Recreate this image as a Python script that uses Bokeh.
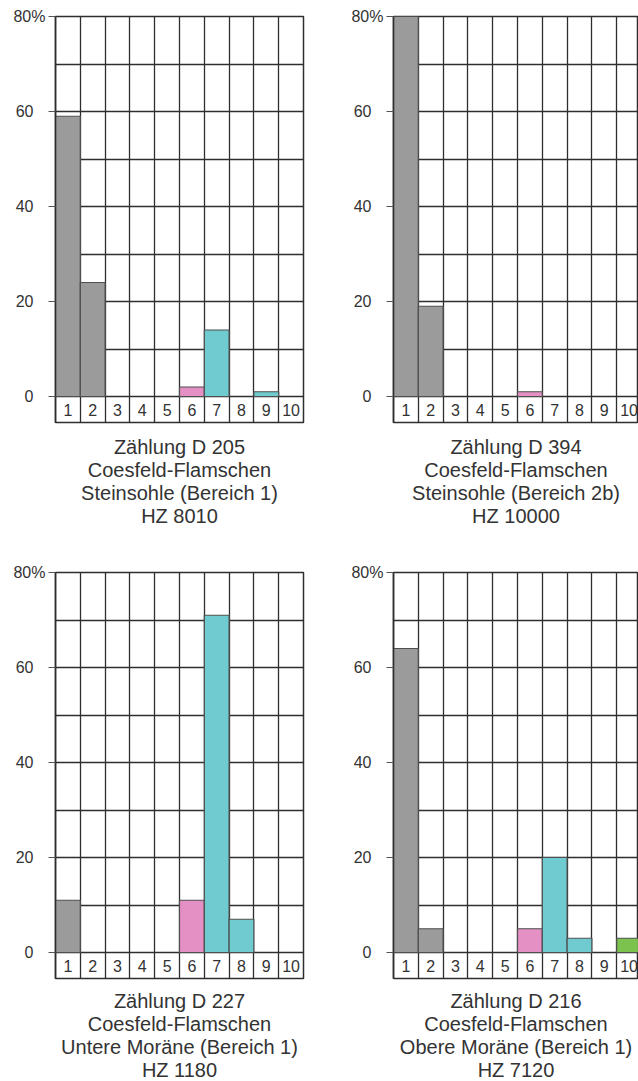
from bokeh.plotting import figure
from bokeh.layouts import column, row
from bokeh.models import FixedTicker, Range1d, Title
from bokeh.core.properties import value
from bokeh.embed import file_html
from bokeh.resources import INLINE

# ---- data ----
classes = [1, 2, 3, 4, 5, 6, 7, 8, 9, 10]
class_labels = ["1", "2", "3", "4", "5", "6", "7", "8", "9", "10"]
y_ticks = [0, 20, 40, 60, 80]
y_tick_labels = ["0", "20", "40", "60", "80%"]

d205 = [59, 24, 0, 0, 0, 2, 14, 0, 1, 0]
d394 = [80, 19, 0, 0, 0, 1, 0, 0, 0, 0]
d227 = [11, 0, 0, 0, 0, 11, 71, 7, 0, 0]
d216 = [64, 5, 0, 0, 0, 5, 20, 3, 0, 3]

cap205 = ["Zählung D 205", "Coesfeld-Flamschen", "Steinsohle (Bereich 1)", "HZ 8010"]
cap394 = ["Zählung D 394", "Coesfeld-Flamschen", "Steinsohle (Bereich 2b)", "HZ 10000"]
cap227 = ["Zählung D 227", "Coesfeld-Flamschen", "Untere Moräne (Bereich 1)", "HZ 1180"]
cap216 = ["Zählung D 216", "Coesfeld-Flamschen", "Obere Moräne (Bereich 1)", "HZ 7120"]

# ---- style ----
class_colors = ["#9b9b9b"] * 5 + ["#e590c5"] + ["#6fcbcf"] * 3 + ["#7cc24e"]
FONT = "Liberation Sans"
TXT = "#333333"
LINE = "#2e2e2e"
PX_PER_UNIT = 4.75
BOX_PX = 26
Y_MIN = -BOX_PX / PX_PER_UNIT
COL_PX = 24.8
PCT_PAD = "\u2002\u2005"  # blank space as wide as "%" so digits line up with "80%"


def make_panel(vals, caption, width, height, left, right, top, bottom, gap):
    frame_w = width - left - right
    x_end = 0.5 + frame_w / COL_PX
    p = figure(width=width, height=height,
               x_range=Range1d(0.5, x_end), y_range=Range1d(Y_MIN, 80),
               x_axis_location=None, output_backend="svg", toolbar_location=None,
               min_border_left=left, min_border_right=right,
               min_border_top=top, min_border_bottom=bottom)
    p.background_fill_color = "white"
    p.border_fill_color = "white"
    p.outline_line_color = LINE
    p.outline_line_width = 1.5

    # grid
    p.xgrid.ticker = FixedTicker(ticks=[c + 0.5 for c in classes[:-1]])
    p.ygrid.ticker = FixedTicker(ticks=list(range(0, 80, 10)))
    for g in (p.xgrid, p.ygrid):
        g.grid_line_color = LINE
        g.grid_line_width = 1.3
        g.grid_line_alpha = 1.0

    # y axis
    ax = p.yaxis[0]
    ax.ticker = FixedTicker(ticks=y_ticks)
    ax.major_label_overrides = {t: (l if l.endswith("%") else l + PCT_PAD)
                                for t, l in zip(y_ticks, y_tick_labels)}
    ax.major_tick_in = 0
    ax.major_tick_out = 7
    ax.major_tick_line_color = "#555555"
    ax.major_tick_line_width = 1.2
    ax.minor_tick_line_color = None
    ax.axis_line_color = LINE
    ax.axis_line_width = 1.5
    ax.major_label_standoff = 3
    ax.major_label_text_font = FONT
    ax.major_label_text_font_size = "16px"
    ax.major_label_text_color = TXT

    # bars
    xs = [c for c, v in zip(classes, vals) if v > 0]
    tops = [v for v in vals if v > 0]
    cols = [col for col, v in zip(class_colors, vals) if v > 0]
    p.vbar(x=xs, top=tops, bottom=0, width=1, fill_color=cols,
           line_color="#4f4f4f", line_width=1.2)

    # class numbers in box row
    p.text(x=classes, y=[Y_MIN / 2] * len(classes), text=class_labels,
           text_align="center", text_baseline="middle",
           text_font=value(FONT), text_font_size="16px", text_color=TXT)

    # blank spacer between the chart and its caption (22px line box, shrunk by standoff)
    p.add_layout(Title(text=" ", text_font=FONT, text_font_size="20px",
                       standoff=gap - 24), "below")

    # captions below the chart
    for line in caption:
        p.add_layout(Title(text=line, align="center", text_font=FONT, text_font_size="20px",
                           text_font_style="normal", text_color=TXT, standoff=-1), "below")
    return p


p1 = make_panel(d205, cap205, 338, 560, 55, 35, 16, 138, 12)
p2 = make_panel(d394, cap394, 300, 560, 55, 0, 16, 138, 12)
p3 = make_panel(d227, cap227, 338, 521, 55, 35, 12, 103, 10)
p4 = make_panel(d216, cap216, 300, 521, 55, 0, 12, 103, 10)

layout = column(row(p1, p2, spacing=0), row(p3, p4, spacing=0), spacing=0)

open("out.html", "w").write(file_html(layout, INLINE))
